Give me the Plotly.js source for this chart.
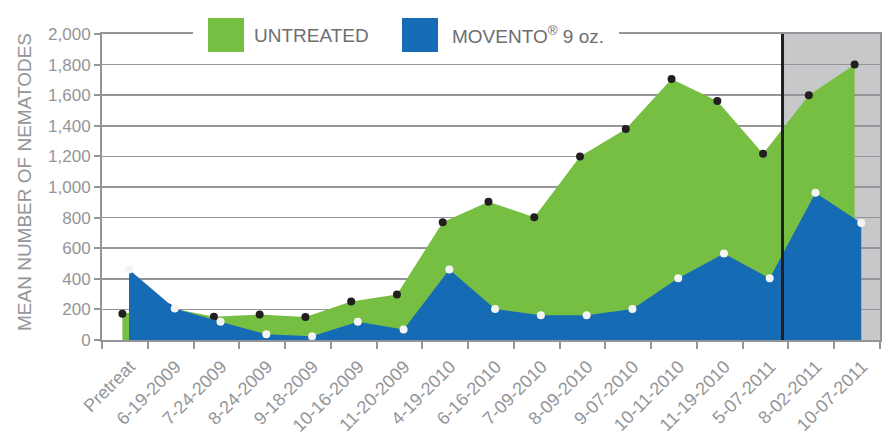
<!DOCTYPE html>
<html>
<head>
<meta charset="utf-8">
<script src="https://cdn.plot.ly/plotly-3.0.1.min.js"></script>
<style>html,body{margin:0;padding:0;background:#fff;}#chart{width:893px;height:434px;}</style>
</head>
<body>
<div id="chart"></div>
<script>
const dates = ["Pretreat","6-19-2009","7-24-2009","8-24-2009","9-18-2009","10-16-2009","11-20-2009","4-19-2010","6-16-2010","7-09-2010","8-09-2010","9-07-2010","10-11-2010","11-19-2010","5-07-2011","8-02-2011","10-07-2011"];
const untreated = [172, 212, 152, 167, 150, 252, 298, 769, 904, 802, 1200, 1379, 1706, 1562, 1218, 1599, 1800];
const movento = [460, 206, 120, 37, 24, 120, 68, 460, 203, 161, 161, 203, 403, 565, 403, 963, 765];
const breakPos = 14.37;

const gray = "#939598";
const textGray = "#6d6e71";
const green = "#77bf43";
const blue = "#166bb5";
const FONT = "Liberation Sans, Arial, sans-serif";

// small horizontal offsets of each series within its category (as in the original artwork)
const shiftUntreated = 0.055;
const shiftMovento = -0.09;

const traces = [
  {
    x: dates, y: untreated, xaxis: "x2", type: "scatter", mode: "lines+markers", name: "UNTREATED",
    fill: "tozeroy", fillcolor: green, line: {color: green, width: 0},
    marker: {color: "#231f20", size: 8}, hoverinfo: "x+y"
  },
  {
    x: dates, y: movento, xaxis: "x3", type: "scatter", mode: "lines+markers", name: "MOVENTO® 9 oz.",
    fill: "tozeroy", fillcolor: blue, line: {color: blue, width: 0},
    marker: {color: "#f4f4f4", size: 8}, hoverinfo: "x+y"
  }
];

function px2x(p){ return (p - 102) / 778; }
function py2y(p){ return (340 - p) / 306; }

const hiddenAxis = (shift) => ({
  type: "category", categoryarray: dates, overlaying: "x",
  range: [-0.5 + shift, 16.5 + shift], visible: false, fixedrange: true
});

const layout = {
  width: 893, height: 434,
  margin: {l: 102, r: 13, t: 34, b: 94},
  paper_bgcolor: "#ffffff", plot_bgcolor: "#ffffff",
  showlegend: false,
  font: {family: FONT, color: gray},
  xaxis: {
    type: "category", categoryarray: dates, range: [-0.5, 16.5],
    tickson: "boundaries", ticks: "outside", ticklen: 7, tickwidth: 2, tickcolor: gray,
    tickangle: -45, tickfont: {size: 18, color: gray, family: FONT},
    ticklabelstandoff: 7, ticklabelshift: 5,
    showline: true, linecolor: gray, linewidth: 2, mirror: true,
    showgrid: false, zeroline: false, fixedrange: true
  },
  xaxis2: hiddenAxis(shiftUntreated),
  xaxis3: hiddenAxis(shiftMovento),
  yaxis: {
    range: [0, 2000], dtick: 200, tickformat: ",d",
    ticks: "outside", ticklen: 6, tickwidth: 2, tickcolor: gray,
    tickfont: {size: 17, color: gray, family: FONT},
    showline: true, linecolor: gray, linewidth: 2, mirror: true,
    showgrid: true, gridcolor: gray, gridwidth: 1.5, zeroline: false, fixedrange: true
  },
  shapes: [
    {type: "rect", xref: "x", yref: "y", x0: breakPos, x1: 16.5, y0: 0, y1: 2000,
     fillcolor: "#c7c8ca", line: {width: 0}, layer: "below"},
    {type: "line", xref: "x", yref: "y", x0: breakPos, x1: breakPos, y0: 0, y1: 2000,
     line: {color: "#231f20", width: 3}, layer: "above"},
    {type: "rect", xref: "paper", yref: "paper", x0: px2x(193), x1: px2x(619), y0: py2y(40), y1: py2y(26),
     fillcolor: "#ffffff", line: {width: 0}, layer: "above"},
    {type: "rect", xref: "paper", yref: "paper", x0: px2x(208), x1: px2x(244), y0: py2y(52), y1: py2y(18),
     fillcolor: green, line: {width: 0}, layer: "above"},
    {type: "rect", xref: "paper", yref: "paper", x0: px2x(402), x1: px2x(438), y0: py2y(52), y1: py2y(18),
     fillcolor: blue, line: {width: 0}, layer: "above"}
  ],
  annotations: [
    {xref: "paper", yref: "paper", x: px2x(252), y: py2y(35), xanchor: "left", yanchor: "middle",
     text: "UNTREATED", showarrow: false, font: {size: 19, color: textGray, family: FONT}},
    {xref: "paper", yref: "paper", x: px2x(450), y: py2y(35), xanchor: "left", yanchor: "middle",
     text: "MOVENTO<sup>®</sup> 9 oz.", showarrow: false, font: {size: 19, color: textGray, family: FONT}},
    {xref: "paper", yref: "paper", x: px2x(25), y: py2y(182), xanchor: "center", yanchor: "middle",
     text: "MEAN NUMBER OF NEMATODES", textangle: -90, showarrow: false,
     font: {size: 19, color: gray, family: FONT}}
  ]
};

Plotly.newPlot("chart", traces, layout, {displayModeBar: false, staticPlot: true});
</script>
</body>
</html>
